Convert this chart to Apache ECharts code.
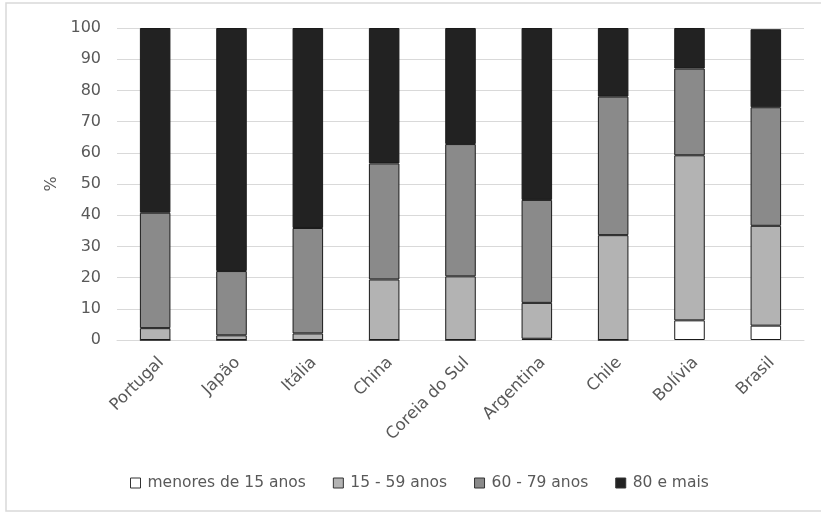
<!DOCTYPE html>
<html>
<head>
<meta charset="utf-8">
<script src="https://cdn.jsdelivr.net/npm/echarts@6/dist/echarts.min.js"></script>
<style>
  html, body { margin: 0; padding: 0; background: #fff; }
  #chart { width: 821px; height: 512px; }
</style>
</head>
<body>
<div id="chart"></div>
<script>
// Países e distribuição por faixa etária (%)
var categories = ['Portugal', 'Japão', 'Itália', 'China', 'Coreia do Sul', 'Argentina', 'Chile', 'Bolívia', 'Brasil'];
var menores15 = [0, 0, 0, 0, 0, 0.4, 0, 6.3, 4.6];
var de15a59 = [3.8, 1.5, 2.1, 19.4, 20.4, 11.5, 33.6, 52.9, 32.0];
var de60a79 = [37.0, 20.6, 33.8, 37.2, 42.4, 33.0, 44.4, 27.8, 38.0];
var mais80 = [59.2, 77.9, 64.1, 43.4, 37.2, 55.1, 22.0, 13.0, 25.0];
var seriesNames = ['menores de 15 anos', '15 - 59 anos', '60 - 79 anos', '80 e mais'];
var yTicks = [0, 10, 20, 30, 40, 50, 60, 70, 80, 90, 100];

var fontFamily = '"DejaVu Sans", sans-serif';
var textColor = '#595959';
var fills = ['#ffffff', '#b3b3b3', '#8a8a8a', '#222222'];
var values = [menores15, de15a59, de60a79, mais80];

var chart = echarts.init(document.getElementById('chart'), null, { renderer: 'canvas' });

var series = values.map(function (arr, i) {
  return {
    name: seriesNames[i],
    type: 'bar',
    stack: 'total',
    barWidth: '40%',
    data: arr,
    itemStyle: { color: fills[i], borderColor: '#1a1a1a', borderWidth: 1 },
    emphasis: { disabled: true }
  };
});

chart.setOption({
  animation: false,
  backgroundColor: '#ffffff',
  graphic: [{
    type: 'rect',
    shape: { x: 6, y: 3, width: 830, height: 508 },
    style: { fill: 'none', stroke: '#d9d9d9', lineWidth: 1.5 },
    silent: true
  }],
  grid: { left: 117, right: 17, top: 28, bottom: 172 },
  legend: {
    top: 470,
    left: 125,
    itemWidth: 10,
    itemHeight: 10,
    itemGap: 27,
    icon: 'rect',
    textStyle: { color: textColor, fontFamily: fontFamily, fontSize: 15.5, padding: [0, 0, 0, 2] },
    data: seriesNames.map(function (n, i) {
      return { name: n, itemStyle: { color: fills[i], borderColor: '#333', borderWidth: 1 } };
    })
  },
  xAxis: {
    type: 'category',
    data: categories,
    axisLine: { lineStyle: { color: '#d9d9d9', width: 1 } },
    axisTick: { show: false },
    axisLabel: {
      rotate: 45,
      interval: 0,
      margin: 14,
      verticalAlign: 'top',
      color: textColor,
      fontFamily: fontFamily,
      fontSize: 16.5
    }
  },
  yAxis: {
    type: 'value',
    min: yTicks[0],
    max: yTicks[yTicks.length - 1],
    interval: 10,
    name: '%',
    nameLocation: 'middle',
    nameGap: 55,
    nameRotate: 90,
    nameTextStyle: { color: textColor, fontFamily: fontFamily, fontSize: 16 },
    axisLine: { show: false },
    axisTick: { show: false },
    splitLine: { lineStyle: { color: '#d9d9d9', width: 1 } },
    axisLabel: { color: textColor, fontFamily: fontFamily, fontSize: 16, margin: 16 }
  },
  series: series
});
</script>
</body>
</html>
